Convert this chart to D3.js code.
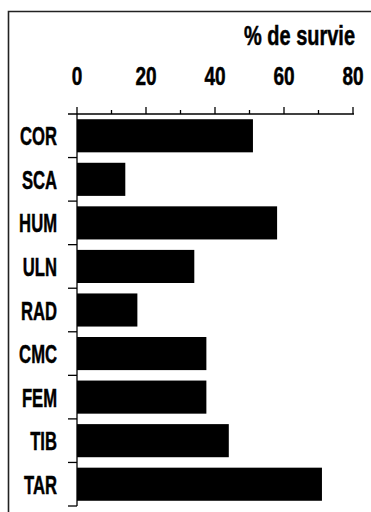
<!DOCTYPE html>
<html>
<head>
<meta charset="utf-8">
<script src="https://cdn.jsdelivr.net/npm/d3@7"></script>
<style>
  html, body { margin: 0; padding: 0; background: #fff; }
  svg { display: block; }
  text { font-family: "Liberation Sans Narrow", "Liberation Sans", Arial, sans-serif; font-weight: bold; fill: #000; stroke: #000; stroke-width: 0.5px; }
</style>
</head>
<body>
<div id="chart"></div>
<script>
// Survival percentage per skeletal element
const categories = ["COR", "SCA", "HUM", "ULN", "RAD", "CMC", "FEM", "TIB", "TAR"];
const survie = [51, 14, 58, 34, 17.5, 37.5, 37.5, 44, 71];
const tickValues = [0, 20, 40, 60, 80];
const minorTicks = [10, 30, 50, 70];
const axisTitle = "% de survie";

const W = 371, H = 512;
const svg = d3.select("#chart").append("svg").attr("width", W).attr("height", H);

// condensed lettering: squeeze text horizontally around its anchor point
function squeeze(sel, sx) {
  sel.each(function () {
    const t = d3.select(this);
    const tx = +t.attr("x"), ty = +t.attr("y");
    t.attr("x", 0).attr("y", 0)
     .attr("transform", `translate(${tx},${ty}) scale(${sx},1)`);
  });
}

// frame
svg.append("path")
  .attr("d", `M8.5,${H + 2} V11.5 H${W + 2}`)
  .attr("fill", "none").attr("stroke", "#222").attr("stroke-width", 1.6);

const x = d3.scaleLinear().domain([0, 80]).range([77, 353]);
const y = d3.scaleBand().domain(categories).range([114, 506]).paddingInner(0.24).paddingOuter(0.12);

// bars
svg.append("g").selectAll("rect").data(categories).join("rect")
  .attr("x", x(0))
  .attr("y", d => y(d))
  .attr("width", (d, i) => x(survie[i]) - x(0))
  .attr("height", y.bandwidth())
  .attr("fill", "#000");

// top axis: major ticks with labels, minor ticks without
const axTop = 114;
const gx = svg.append("g").attr("transform", `translate(0,${axTop})`);
gx.append("line").attr("x1", 68).attr("x2", x(80) + 1).attr("y1", 0).attr("y2", 0)
  .attr("stroke", "#000").attr("stroke-width", 1.5);
gx.selectAll("line.major").data(tickValues).join("line").attr("class", "major")
  .attr("x1", d => x(d)).attr("x2", d => x(d)).attr("y1", 0).attr("y2", -7)
  .attr("stroke", "#000").attr("stroke-width", 1.3);
gx.selectAll("line.minor").data(minorTicks).join("line").attr("class", "minor")
  .attr("x1", d => x(d)).attr("x2", d => x(d)).attr("y1", 0).attr("y2", -4)
  .attr("stroke", "#000").attr("stroke-width", 1.3);
gx.selectAll("text").data(tickValues).join("text")
  .attr("x", d => x(d)).attr("y", 85 - axTop)
  .attr("text-anchor", "middle")
  .style("font-size", "25px")
  .text(d => d)
  .call(squeeze, 0.76);

// left axis: boundaries between categories
const gy = svg.append("g");
gy.append("line").attr("x1", x(0)).attr("x2", x(0)).attr("y1", 114).attr("y2", 506)
  .attr("stroke", "#000").attr("stroke-width", 1.3);
const bounds = d3.range(categories.length + 1).map(i => 114 + i * (392 / categories.length));
gy.selectAll("line.tick").data(bounds.slice(1)).join("line").attr("class", "tick")
  .attr("x1", 68).attr("x2", x(0)).attr("y1", d => d).attr("y2", d => d)
  .attr("stroke", "#000").attr("stroke-width", 1.3);

// category labels
gy.selectAll("text").data(categories).join("text")
  .attr("x", 57)
  .attr("y", d => y(d) + y.bandwidth() / 2 + 9.5)
  .attr("text-anchor", "end")
  .style("font-size", "26px")
  .text(d => d)
  .call(squeeze, 0.64);

// axis title
svg.append("text")
  .attr("x", 355).attr("y", 45)
  .attr("text-anchor", "end")
  .style("font-size", "27px")
  .text(axisTitle)
  .call(squeeze, 0.74);
</script>
</body>
</html>
